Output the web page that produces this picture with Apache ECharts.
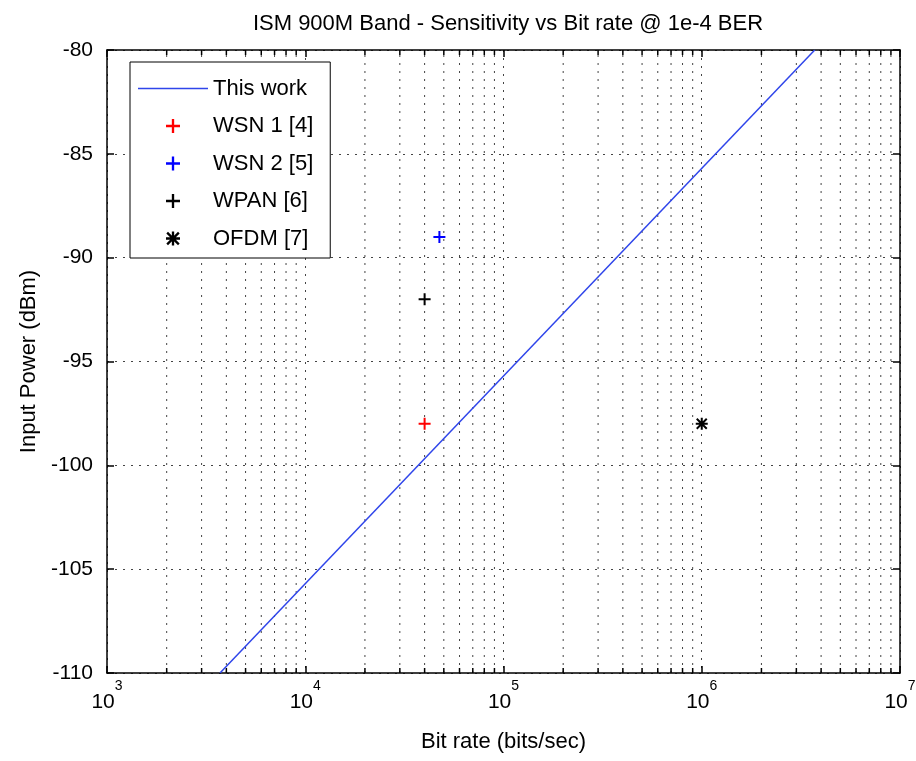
<!DOCTYPE html>
<html>
<head>
<meta charset="utf-8">
<title>ISM 900M Band - Sensitivity vs Bit rate</title>
<script src="https://cdn.jsdelivr.net/npm/echarts@6/dist/echarts.min.js"></script>
<style>
  html, body { margin: 0; padding: 0; background: #fff; }
  #chart { width: 916px; height: 761px; }
</style>
</head>
<body>
<div id="chart"></div>
<script>
// "This work" sensitivity line (bits/sec, dBm)
const thisWorkX = [3715, 3715000]
const thisWorkY = [-110, -80]

// reference designs
const wsn1 = [[40000, -98]]
const wsn2 = [[47500, -89]]
const wpan = [[40000, -92]]
const ofdm = [[1000000, -98]]

// log grid: decades and the 2..9 multipliers between them
const decades = [1e3, 1e4, 1e5, 1e6]
const minorMults = [2, 3, 4, 5, 6, 7, 8, 9]
const yTicks = [-110, -105, -100, -95, -90, -85, -80]

const FONT = '"Liberation Sans", Arial, sans-serif'
const xMin = 1e3
const xMax = 1e7
const yMin = yTicks[0]
const yMax = yTicks[yTicks.length - 1]

const minorTicks = []
decades.forEach(d => minorMults.forEach(m => minorTicks.push([d * m, yMin])))

const plusPath = 'path://M5,0h2v5h5v2h-5v5h-2v-5h-5v-2h5z'
const starPath = 'path://M0,5h12v2h-12zM5,0h2v12h-2zM0.3,1.7L1.7,0.3L11.7,10.3L10.3,11.7zM10.3,0.3L11.7,1.7L1.7,11.7L0.3,10.3z'
const linePath = 'path://M0,0h70v1.5h-70z'

const dotted = { color: '#444', width: 1, type: [2, 6] }
const blue = '#2f45ea'

const chart = echarts.init(document.getElementById('chart'))

chart.setOption({
  backgroundColor: '#fff',
  animation: false,
  textStyle: { fontFamily: FONT },
  title: {
    text: 'ISM 900M Band - Sensitivity vs Bit rate @ 1e-4 BER',
    left: 503,
    top: 8,
    textAlign: 'center',
    textStyle: { fontFamily: FONT, fontSize: 22, fontWeight: 'normal', color: '#000' }
  },
  grid: { left: 107, right: 16, top: 50, bottom: 88, outerBoundsMode: 'none' },
  legend: {
    orient: 'vertical',
    left: 130,
    top: 62,
    padding: [15.5, 17, 8.5, 8],
    itemWidth: 70,
    itemHeight: 14,
    itemGap: 15.5,
    backgroundColor: '#fff',
    borderColor: '#000',
    borderWidth: 1,
    borderRadius: 0,
    textStyle: { fontFamily: FONT, fontSize: 22, color: '#000' },
    data: [
      { name: 'This work', icon: linePath },
      'WSN 1 [4]', 'WSN 2 [5]', 'WPAN [6]', 'OFDM [7]'
    ]
  },
  xAxis: [
    {
      type: 'log',
      logBase: 10,
      min: xMin,
      max: xMax,
      splitNumber: 4,
      name: 'Bit rate (bits/sec)',
      nameLocation: 'middle',
      nameGap: 58,
      nameTextStyle: { fontFamily: FONT, fontSize: 22, color: '#000' },
      axisLine: { lineStyle: { color: '#000', width: 1.5 } },
      axisTick: { inside: true, length: 7, lineStyle: { color: '#000', width: 1.5 } },
      splitLine: { show: true, lineStyle: dotted },
      axisLabel: {
        margin: 6,
        formatter: v => '{b|10}{s|' + Math.round(Math.log10(v)) + '}',
        rich: {
          b: { fontFamily: FONT, fontSize: 21, color: '#000', verticalAlign: 'bottom', lineHeight: 34 },
          s: { fontFamily: FONT, fontSize: 14, color: '#000', verticalAlign: 'top', lineHeight: 34 }
        }
      }
    },
    {
      type: 'log',
      logBase: 10,
      min: xMin,
      max: xMax,
      splitNumber: 4,
      position: 'top',
      axisLine: { lineStyle: { color: '#000', width: 1.5 } },
      axisTick: { inside: true, length: 7, lineStyle: { color: '#000', width: 1.5 } },
      axisLabel: { show: false },
      splitLine: { show: false }
    }
  ],
  yAxis: [
    {
      type: 'value',
      min: yMin,
      max: yMax,
      interval: 5,
      name: 'Input Power (dBm)',
      nameLocation: 'middle',
      nameGap: 66,
      nameTextStyle: { fontFamily: FONT, fontSize: 22, color: '#000' },
      axisLine: { show: true, lineStyle: { color: '#000', width: 1.5 } },
      axisTick: { show: true, inside: true, length: 7, lineStyle: { color: '#000', width: 1.5 } },
      splitLine: { show: true, lineStyle: dotted },
      axisLabel: { margin: 14, fontFamily: FONT, fontSize: 21, color: '#000' }
    },
    {
      type: 'value',
      min: yMin,
      max: yMax,
      interval: 5,
      position: 'right',
      axisLine: { show: true, lineStyle: { color: '#000', width: 1.5 } },
      axisTick: { show: true, inside: true, length: 7, lineStyle: { color: '#000', width: 1.5 } },
      axisLabel: { show: false },
      splitLine: { show: false }
    }
  ],
  series: [
    {
      // minor log grid lines with short ticks on top and bottom edges
      type: 'custom',
      silent: true,
      z: 1,
      clip: false,
      data: minorTicks,
      encode: { x: 0, y: 1 },
      renderItem: (params, api) => {
        const x = api.value(0)
        const p0 = api.coord([x, yMin])
        const p1 = api.coord([x, yMax])
        return {
          type: 'group',
          children: [
            { type: 'line', shape: { x1: p0[0], y1: p0[1], x2: p1[0], y2: p1[1] }, style: { stroke: dotted.color, lineWidth: 1, lineDash: dotted.type } },
            { type: 'line', shape: { x1: p0[0], y1: p0[1], x2: p0[0], y2: p0[1] - 5 }, style: { stroke: '#000', lineWidth: 1.5 } },
            { type: 'line', shape: { x1: p1[0], y1: p1[1], x2: p1[0], y2: p1[1] + 5 }, style: { stroke: '#000', lineWidth: 1.5 } }
          ]
        }
      }
    },
    {
      name: 'This work',
      type: 'line',
      z: 5,
      symbol: 'none',
      data: thisWorkX.map((x, i) => [x, thisWorkY[i]]),
      lineStyle: { color: blue, width: 1.5 },
      itemStyle: { color: blue }
    },
    {
      name: 'WSN 1 [4]',
      type: 'scatter',
      z: 6,
      symbol: plusPath,
      symbolSize: 12,
      data: wsn1,
      itemStyle: { color: '#ff0000', opacity: 1 }
    },
    {
      name: 'WSN 2 [5]',
      type: 'scatter',
      z: 6,
      symbol: plusPath,
      symbolSize: 12,
      data: wsn2,
      itemStyle: { color: '#0000ff', opacity: 1 }
    },
    {
      name: 'WPAN [6]',
      type: 'scatter',
      z: 6,
      symbol: plusPath,
      symbolSize: 12,
      data: wpan,
      itemStyle: { color: '#000', opacity: 1 }
    },
    {
      name: 'OFDM [7]',
      type: 'scatter',
      z: 6,
      symbol: starPath,
      symbolSize: 12,
      data: ofdm,
      itemStyle: { color: '#000', opacity: 1 }
    }
  ]
})
</script>
</body>
</html>
